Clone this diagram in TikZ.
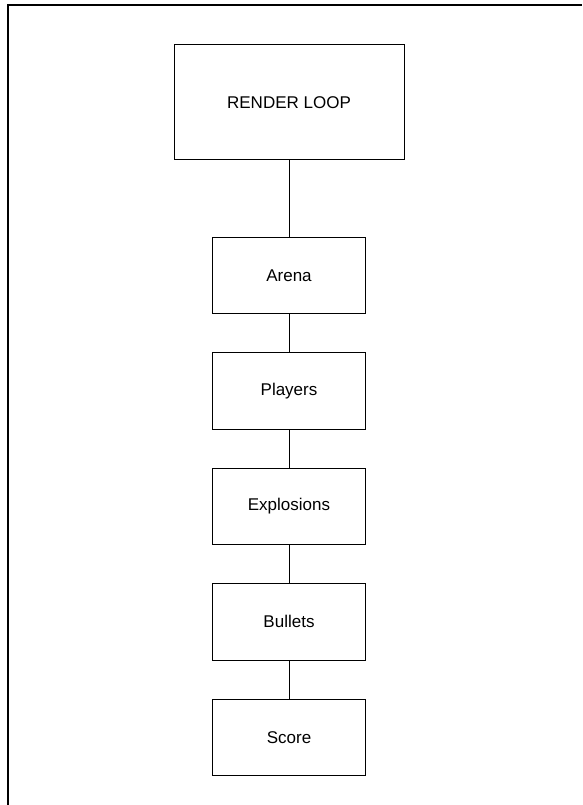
\documentclass[tikz,border=0pt]{standalone}
\usepackage{fontspec}
\setmainfont{Liberation Sans}
\usetikzlibrary{positioning}

\begin{document}
\begin{tikzpicture}[x=1pt,y=-1pt,
  box/.style={draw,line width=1pt,minimum width=153pt,minimum height=76.5pt,
    font=\fontsize{17}{20}\selectfont},
  link/.style={line width=1pt},
  node distance=38pt]
\useasboundingbox (0,0) rectangle (583,805);
% frame
\draw[line width=2pt] (7.5,805)--(7.5,5)--(582,5);
\node[box,minimum width=230pt,minimum height=115pt] (loop) at (289,102.5){RENDER LOOP};
\node[box,below=76pt of loop] (arena){Arena};
\node[box,below=of arena] (players){Players};
\node[box,below=of players] (explosions){Explosions};
\node[box,below=of explosions] (bullets){Bullets};
\node[box,below=of bullets] (score){Score};
\draw[link] (loop)--(arena);
\draw[link] (arena)--(players);
\draw[link] (players)--(explosions);
\draw[link] (explosions)--(bullets);
\draw[link] (bullets)--(score);
\end{tikzpicture}
\end{document}
